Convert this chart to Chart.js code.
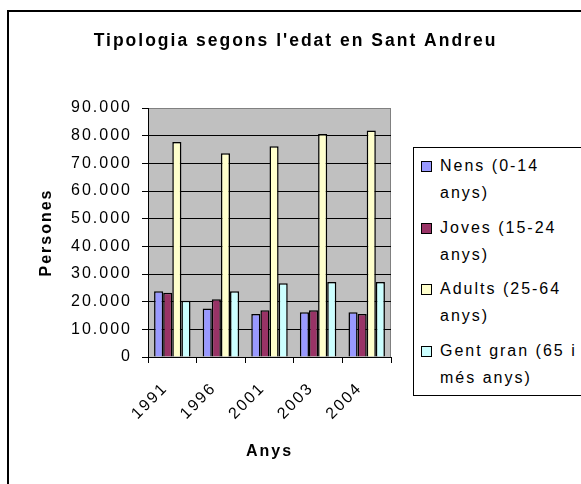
<!DOCTYPE html>
<html>
<head>
<meta charset="utf-8">
<script src="https://cdn.jsdelivr.net/npm/chart.js@4"></script>
<style>
  body { margin: 0; background: #fff; overflow: hidden; }
  #wrap { position: relative; width: 581px; height: 484px; overflow: hidden; }
  #frame { position: absolute; left: 7px; top: 10px; width: 600px; height: 500px;
           border-left: 2px solid #000; border-top: 2px solid #000; }
  canvas { position: absolute; left: 0; top: 0; }
  #legend { position: absolute; left: 413px; top: 147px; width: 200px; height: 247px;
            border: 1px solid #000; background: #fff;
            font: 16px "Liberation Sans", Arial, sans-serif; letter-spacing: 2px; color: #000; }
  .item { position: absolute; left: 26px; width: 145px; line-height: 27px; }
  .box { position: absolute; left: -19px; top: 9px; width: 9px; height: 9px; border: 1px solid #000; }
</style>
</head>
<body>
<div id="wrap">
  <canvas id="chart" width="581" height="484"></canvas>
  <div id="frame"></div>
  <div id="legend"></div>
</div>
<script>
// Tipologia segons l'edat en Sant Andreu

const titleText = "Tipologia segons l'edat en Sant Andreu";
const years = ["1991", "1996", "2001", "2003", "2004"];
const seriesNames = ["Nens (0-14 anys)", "Joves (15-24 anys)", "Adults (25-64 anys)", "Gent gran (65 i més anys)"];
const nens = [23800, 17500, 15500, 16200, 16200];
const joves = [23200, 20900, 16900, 16900, 15500];
const adults = [77700, 73600, 76200, 80600, 81900];
const gentGran = [20300, 23800, 26700, 27100, 27100];
const yTicks = [0, 10000, 20000, 30000, 40000, 50000, 60000, 70000, 80000, 90000];

const colors = ["#9999FF", "#993366", "#FFFFCC", "#CCFFFF"];
const FONT = "'Liberation Sans', Arial, sans-serif";

// canvas text needs the same loose spacing as the original
const spacing = {
  id: "spacing",
  beforeUpdate(c) { c.ctx.letterSpacing = "2px"; },
  beforeDraw(c) { c.ctx.letterSpacing = "2px"; }
};

// grey plot area
const plotBg = {
  id: "plotBg",
  beforeDraw(c) {
    const a = c.chartArea, ctx = c.ctx;
    ctx.save();
    ctx.fillStyle = "#C0C0C0";
    ctx.fillRect(a.left, a.top, a.right - a.left, a.bottom - a.top);
    ctx.strokeStyle = "#808080";
    ctx.lineWidth = 1;
    ctx.beginPath();
    ctx.moveTo(a.right - 0.5, a.top);
    ctx.lineTo(a.right - 0.5, a.bottom);
    ctx.stroke();
    ctx.restore();
  }
};

// title centred on the whole frame, not on the plot
const frameTitle = {
  id: "frameTitle",
  afterDraw(c) {
    const ctx = c.ctx;
    ctx.save();
    ctx.letterSpacing = "2px";
    ctx.font = "bold 17.5px " + FONT;
    ctx.fillStyle = "#000";
    ctx.textAlign = "center";
    ctx.textBaseline = "alphabetic";
    ctx.fillText(titleText, c.width / 2 + 5, 45.5);
    ctx.restore();
  }
};

const fmt = v => String(v).replace(/\B(?=(\d{3})+(?!\d))/g, ".");

const chart = new Chart(document.getElementById("chart"), {
  type: "bar",
  data: {
    labels: years,
    datasets: [nens, joves, adults, gentGran].map((d, i) => ({
      label: seriesNames[i],
      data: d,
      backgroundColor: colors[i],
      borderColor: "#000",
      borderWidth: 1.5,
      categoryPercentage: 0.75,
      barPercentage: 1
    }))
  },
  options: {
    responsive: false,
    animation: false,
    layout: { padding: { left: 10, right: 190, top: 108, bottom: 0 } },
    plugins: {
      legend: { display: false },
      tooltip: { enabled: false },
      title: { display: false }
    },
    scales: {
      x: {
        afterFit(s) { s.height = 127; },
        grid: { offset: true, drawOnChartArea: false, drawTicks: true, tickLength: 6, color: "#000" },
        border: { color: "#000", width: 1 },
        ticks: {
          color: "#000", font: { family: FONT, size: 16 },
          autoSkip: false, minRotation: 45, maxRotation: 45, labelOffset: -7, padding: 16
        },
        title: {
          display: true, text: "Anys", color: "#000",
          font: { family: FONT, size: 16, weight: "bold" },
          padding: { top: 0, bottom: 23 }
        }
      },
      y: {
        min: 0,
        max: 90000,
        afterFit(s) { s.width = 138; },
        afterBuildTicks(s) { s.ticks = yTicks.map(v => ({ value: v })); },
        grid: {
          color: ctx => (ctx.tick && ctx.tick.value === 90000 ? "#808080" : "#000"),
          tickColor: "#000",
          tickLength: 6
        },
        border: { color: "#000", width: 1 },
        ticks: {
          color: "#000", font: { family: FONT, size: 16 }, padding: 10,
          callback: v => fmt(v)
        },
        title: {
          display: true, text: "Persones", color: "#000",
          font: { family: FONT, size: 16, weight: "bold" },
          padding: { top: 27, bottom: 0 }
        }
      }
    }
  },
  plugins: [spacing, plotBg, frameTitle]
});

// legend with wrapped labels
const legend = document.getElementById("legend");
chart.data.datasets.forEach((ds, i) => {
  const item = document.createElement("div");
  item.className = "item";
  item.style.top = (4 + i * 61.7) + "px";
  const box = document.createElement("span");
  box.className = "box";
  box.style.background = ds.backgroundColor;
  item.appendChild(box);
  item.appendChild(document.createTextNode(ds.label));
  legend.appendChild(item);
});
</script>
</body>
</html>
